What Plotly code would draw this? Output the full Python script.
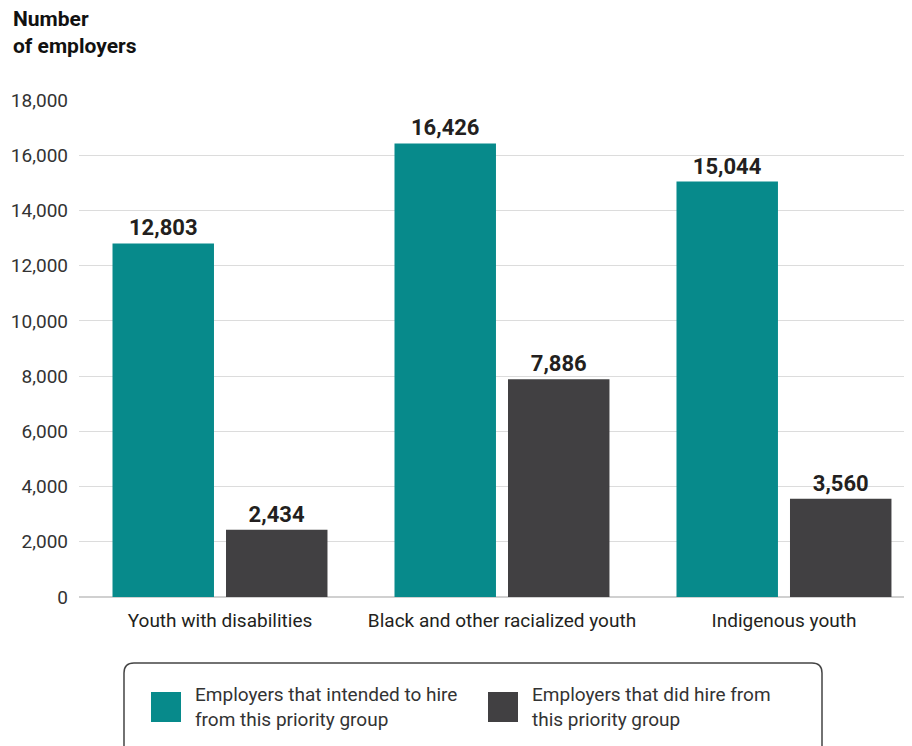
import plotly.graph_objects as go

categories = ["Youth with disabilities", "Black and other racialized youth", "Indigenous youth"]
intended = [12803, 16426, 15044]
did_hire = [2434, 7886, 3560]
series_names = ["Employers that intended to hire<br>from this priority group",
                "Employers that did hire from<br>this priority group"]
y_ticks = [0, 2000, 4000, 6000, 8000, 10000, 12000, 14000, 16000, 18000]

TEAL = "#078a8b"
GRAY = "#414042"
FONT = "Roboto"
TXT = "#231f20"

O = 8  # page body margin offset
W, H = 912 - O, 746 - O
PL, PT, PR, PB = 79 - O, 100 - O, 912, 597 - O  # plot area in figure px
PW, PH = PR - O - PL, PB - PT

fig = go.Figure()
for name, vals, col in [(series_names[0], intended, TEAL), (series_names[1], did_hire, GRAY)]:
    fig.add_trace(go.Bar(
        x=categories, y=vals, name=name, marker=dict(color=col, line=dict(width=0)),
        text=[f"{v:,}" for v in vals], textposition="outside",
        textfont=dict(family=FONT, size=22, color=TXT, weight="bold"),
        cliponaxis=False, showlegend=False,
    ))

fig.update_layout(
    width=W, height=H,
    margin=dict(l=PL, r=W - PL - PW, t=PT, b=H - PB, pad=0),
    paper_bgcolor="white", plot_bgcolor="white",
    barmode="group", bargap=0.195, bargroupgap=0.106,
    font=dict(family=FONT, color="#333333"),
    xaxis=dict(range=[-0.5, 2.454], tickfont=dict(size=19, color="#231f20"),
               showline=False, ticks="", ticklabelstandoff=10),
    yaxis=dict(range=[0, 18000], tickvals=y_ticks, tickformat=",d",
               tickfont=dict(size=19, color="#333333"),
               gridcolor="#dcdcdc", gridwidth=1, zeroline=True, zerolinecolor="#d0d0d0",
               ticks="", ticklabelstandoff=10),
)

def px_x(p):  # reference px -> paper
    return (p - O - PL) / PW
def px_y(p):
    return (PB - (p - O)) / PH

fig.add_annotation(xref="paper", yref="paper", x=px_x(11), y=px_y(5), xanchor="left", yanchor="top",
                   text="<b>Number<br>of employers</b>", showarrow=False, align="left",
                   font=dict(family=FONT, size=21, color="#111111"))

# legend box (rounded)
x0, x1, y0, y1, r = 124, 822, 663, 770, 10
def P(x, y):
    return f"{px_x(x):.5f},{px_y(y):.5f}"
path = (f"M {P(x0+r,y0)} L {P(x1-r,y0)} Q {P(x1,y0)} {P(x1,y0+r)} L {P(x1,y1)} "
        f"L {P(x0,y1)} L {P(x0,y0+r)} Q {P(x0,y0)} {P(x0+r,y0)} Z")
fig.add_shape(type="path", path=path, xref="paper", yref="paper",
              line=dict(color="#444444", width=1.5), fillcolor="rgba(0,0,0,0)")

for sx, col, name in [(151, TEAL, series_names[0]), (488, GRAY, series_names[1])]:
    fig.add_shape(type="rect", xref="paper", yref="paper",
                  x0=px_x(sx), x1=px_x(sx + 30), y0=px_y(722), y1=px_y(692),
                  fillcolor=col, line=dict(width=0))
    fig.add_annotation(xref="paper", yref="paper", x=px_x(sx + 42), y=px_y(707),
                       xanchor="left", yanchor="middle", text=name, showarrow=False,
                       align="left", font=dict(family=FONT, size=19, color="#333333"))

fig.write_html("out.html")
